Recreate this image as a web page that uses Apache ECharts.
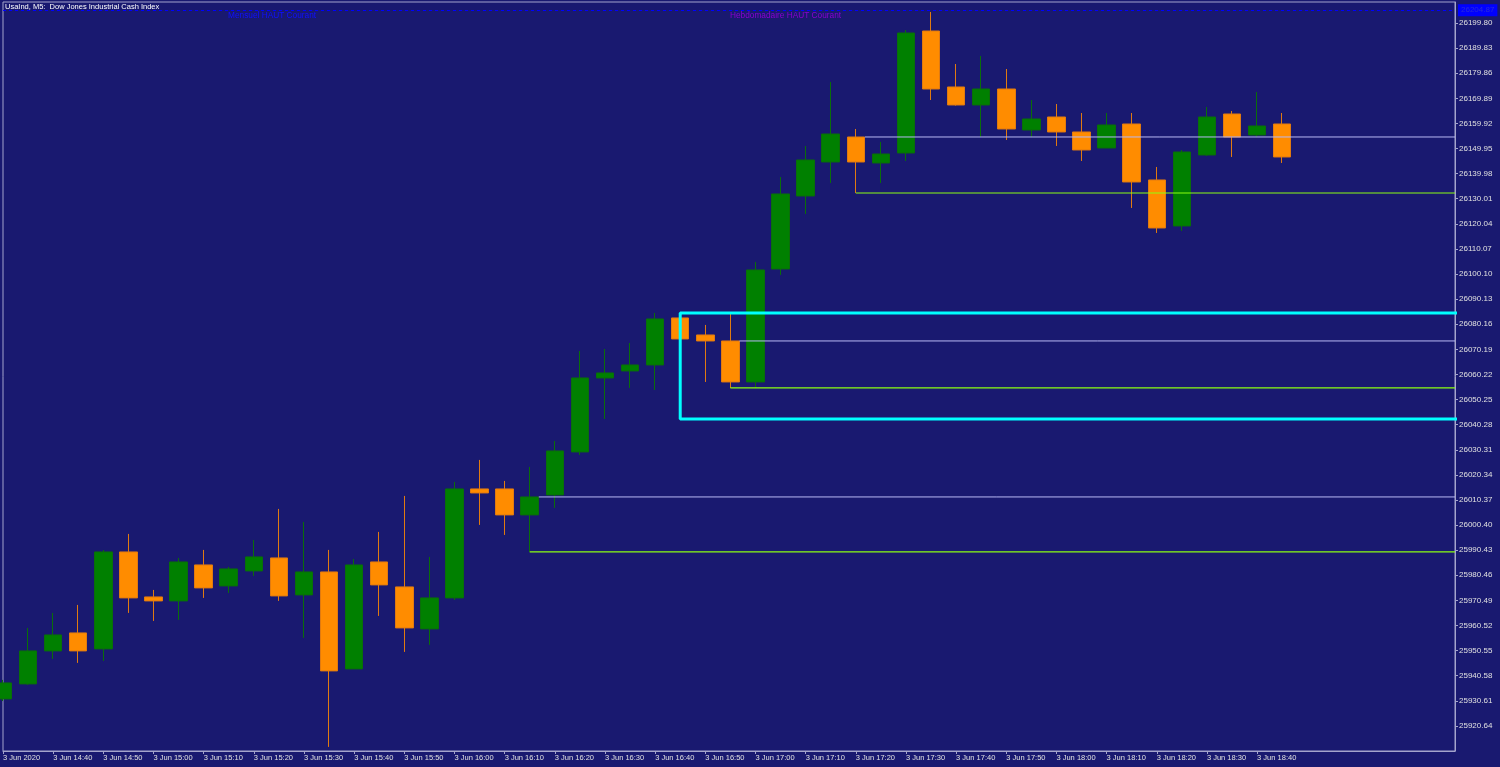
<!DOCTYPE html>
<html>
<head>
<meta charset="utf-8">
<script src="https://cdn.jsdelivr.net/npm/echarts@6/dist/echarts.min.js"></script>
<style>
  html, body { margin: 0; padding: 0; background: #191970; }
  #chart { width: 1500px; height: 767px; }
</style>
</head>
<body>
<div id="chart"></div>
<script>
'use strict'

// UsaInd M5, 3 Jun 2020
const times = ['14:30','14:35','14:40','14:45','14:50','14:55','15:00','15:05','15:10','15:15',
  '15:20','15:25','15:30','15:35','15:40','15:45','15:50','15:55','16:00','16:05',
  '16:10','16:15','16:20','16:25','16:30','16:35','16:40','16:45','16:50','16:55',
  '17:00','17:05','17:10','17:15','17:20','17:25','17:30','17:35','17:40','17:45',
  '17:50','17:55','18:00','18:05','18:10','18:15','18:20','18:25','18:30','18:35',
  '18:40','18:45'];

const opens = [25931.36,25937.32,25950.42,25957.57,25951.22,25989.73,25971.86,25970.28,25984.57,25976.23,
  25982.19,25987.35,25972.66,25981.79,25943.27,25985.76,25975.84,25959.16,25971.47,26014.75,
  26014.75,26004.43,26012.37,26029.44,26058.83,26061.61,26063.99,26082.66,26075.90,26073.52,
  26057.24,26102.11,26131.10,26144.60,26154.53,26144.21,26148.18,26196.62,26174.39,26167.24,
  26173.59,26157.31,26162.47,26156.52,26150.16,26159.69,26137.46,26119.19,26147.38,26163.66,
  26155.32,26159.69];

const closes = [25937.71,25950.42,25956.77,25950.42,25989.73,25971.47,25970.28,25985.76,25975.44,25982.98,
  25987.75,25972.26,25981.79,25942.48,25984.57,25976.63,25959.55,25971.47,26014.75,26013.16,
  26004.43,26011.57,26029.84,26058.83,26060.81,26063.99,26082.26,26074.32,26073.52,26057.24,
  26101.72,26131.90,26145.40,26155.72,26144.60,26147.78,26195.83,26173.59,26167.24,26173.59,
  26157.71,26161.68,26156.52,26149.37,26159.30,26136.66,26118.39,26148.57,26162.47,26154.53,
  26158.90,26146.59];

const lows = [25930.50,25936.92,25947.24,25945.66,25946.45,25965.51,25962.33,25962.73,25971.47,25973.45,
  25980.20,25970.28,25955.58,25912.30,25943.27,25964.32,25950.02,25952.80,25970.67,26000.46,
  25996.48,25989.73,26007.21,26028.25,26042.55,26054.86,26054.06,26068.76,26057.24,26054.86,
  26054.86,26099.73,26123.95,26136.26,26132.29,26136.26,26145.00,26169.22,26167.00,26154.53,
  26153.34,26154.53,26150.96,26145.00,26150.16,26126.34,26116.41,26117.20,26146.99,26146.59,
  26154.53,26144.21];

const highs = [25938.90,25959.55,25965.51,25968.69,25990.50,25996.88,25974.64,25987.35,25990.53,25983.78,
  25994.50,26006.81,26001.65,25990.53,25986.95,25997.68,26011.97,25987.75,26017.53,26026.27,
  26017.93,26023.49,26033.81,26069.55,26070.35,26072.73,26084.64,26084.00,26079.88,26084.64,
  26104.89,26138.65,26150.96,26176.37,26157.71,26152.55,26197.02,26204.17,26183.52,26186.70,
  26181.53,26169.22,26167.63,26164.06,26164.06,26164.06,26142.62,26149.37,26166.44,26164.86,
  26172.40,26164.06];

// indicator levels (bar index where they start)
const levelStart = [21, 29, 34];
const levelUpper = [26011.57, 26073.52, 26154.53];
const levelLower = [25989.73, 26054.86, 26132.29];

const zoneStart = 27;
const zoneTop = 26084.64;
const zoneBottom = 26042.55;

const monthlyHigh = 26204.87;

// price scale ticks
const yTickStart = 25910.67;
const yTickStep = 9.97;
const yTop = 26208.14;
const xRight = 57.89;

// time labels every second bar
const timeTicks = times.map((t, i) => i).filter(i => i % 2 === 0);

const FONT = 'Liberation Sans';
const FRAME = '#a4a4cc';

const chart = echarts.init(document.getElementById('chart'));

const candles = times.map((t, i) => [i, opens[i], closes[i], lows[i], highs[i]]);

const series = [{
  type: 'candlestick',
  data: candles,
  encode: {x: 0, y: [1, 2, 3, 4]},
  barWidth: 18,
  itemStyle: {
    color: '#008000',
    color0: '#ff8c00',
    borderColor: '#0a6e0a',
    borderColor0: '#e07a10',
    borderWidth: 1
  },
  markLine: {
    silent: true,
    symbol: ['none', 'none'],
    lineStyle: {color: '#0000ff', type: [3, 3], width: 1},
    label: {
      show: true,
      position: 'end',
      distance: 3,
      formatter: p => p.value.toFixed(2),
      backgroundColor: '#0000ff',
      color: '#2a2ad8',
      fontSize: 8,
      fontFamily: FONT,
      padding: [2, 3]
    },
    data: [{yAxis: monthlyHigh}]
  }
}];

levelStart.forEach((s, i) => {
  series.push({
    type: 'line', silent: true, symbol: 'none',
    lineStyle: {color: '#b8b8f4', width: 1},
    data: [[s + 0.36, levelUpper[i]], [xRight, levelUpper[i]]]
  });
  series.push({
    type: 'line', silent: true, symbol: 'none',
    lineStyle: {color: '#8cff10', width: 1.2},
    data: [[s, levelLower[i]], [xRight, levelLower[i]]]
  });
});

series.push({
  type: 'line', silent: true, symbol: 'none',
  lineStyle: {color: '#00ffff', width: 3},
  data: [[xRight + 1, zoneTop], [zoneStart, zoneTop], [zoneStart, zoneBottom], [xRight + 1, zoneBottom]]
});

chart.setOption({
  animation: false,
  backgroundColor: '#191970',
  grid: {left: 2, right: 45, top: 2, bottom: 16, show: true, borderColor: FRAME, borderWidth: 1},
  xAxis: {
    type: 'value',
    min: 0,
    max: xRight,
    interval: 2,
    splitLine: {show: false},
    axisLine: {show: true, onZero: false, lineStyle: {color: FRAME}},
    axisTick: {show: true, inside: false, length: 3, customValues: timeTicks, lineStyle: {color: FRAME}},
    axisLabel: {
      color: '#e0e0e0',
      fontSize: 7.5,
      fontFamily: FONT,
      align: 'left',
      margin: 3,
      customValues: timeTicks,
      formatter: v => {
        if (!Number.isInteger(v) || v >= times.length) return '';
        return v === 0 ? '3 Jun 2020' : '3 Jun ' + times[v];
      }
    }
  },
  yAxis: {
    type: 'value',
    position: 'right',
    min: yTickStart,
    max: yTop,
    interval: yTickStep,
    splitLine: {show: false},
    axisLine: {show: true, onZero: false, lineStyle: {color: FRAME}},
    axisTick: {show: true, inside: false, length: 3, lineStyle: {color: FRAME}},
    axisLabel: {
      color: '#e0e0e0',
      fontSize: 8,
      fontFamily: FONT,
      margin: 4,
      showMinLabel: false,
      showMaxLabel: false,
      formatter: v => v.toFixed(2)
    }
  },
  graphic: [
    {type: 'text', left: 5, top: 3,
      style: {text: 'UsaInd, M5:  Dow Jones Industrial Cash Index', fill: '#ffffff', fontSize: 7.5, fontFamily: FONT}},
    {type: 'text', left: 228, top: 12,
      style: {text: 'Mensuel HAUT Courant', fill: '#1010ff', fontSize: 8.3, fontFamily: FONT}},
    {type: 'text', left: 730, top: 12,
      style: {text: 'Hebdomadaire HAUT Courant', fill: '#8a00d0', fontSize: 8.3, fontFamily: FONT}}
  ],
  series: series
});
</script>
</body>
</html>
